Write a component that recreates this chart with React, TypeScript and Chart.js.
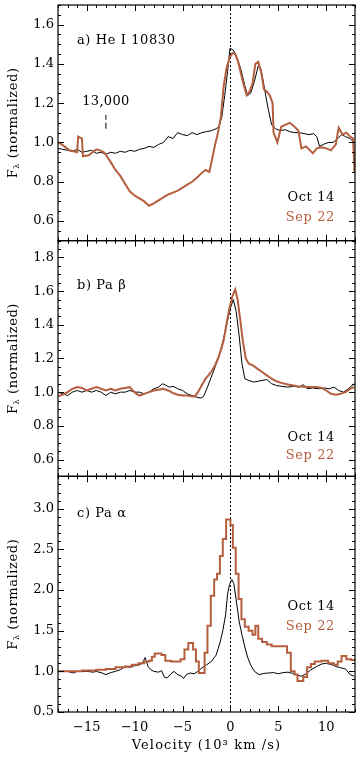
import React, { useEffect, useRef } from 'react';
import { Chart, registerables } from 'chart.js';

Chart.register(...registerables);

// ---------- data ----------
const xMajor = [-15, -10, -5, 0, 5, 10];
const yTicksA = [0.6, 0.8, 1.0, 1.2, 1.4, 1.6];
const yTicksB = [0.6, 0.8, 1.0, 1.2, 1.4, 1.6, 1.8];
const yTicksC = [0.5, 1.0, 1.5, 2.0, 2.5, 3.0];
const panelLabels = ['a) He I 10830', 'b) Pa β', 'c) Pa α'];
const legendLabels = ['Oct 14', 'Sep 22'];
const xTitle = 'Velocity (10³ km /s)';
const markerLabel = '13,000';
const markerVelocity = -13;
const markerRange = [1.07, 1.14];

// He I 10830 (velocity in 10^3 km/s, normalized flux)
const heOct = [
  [-18, 0.97], [-17.5, 0.965], [-17, 0.96], [-16.5, 0.955], [-16, 0.965], [-15.5, 0.95], [-15, 0.955],
  [-14.5, 0.96], [-14, 0.945], [-13.5, 0.95], [-13, 0.94], [-12.5, 0.95], [-12, 0.945], [-11.5, 0.955],
  [-11, 0.95], [-10.5, 0.96], [-10, 0.955], [-9.5, 0.965], [-9, 0.97], [-8.5, 0.98], [-8, 0.975],
  [-7.5, 0.99], [-7, 1.0], [-6.5, 1.03], [-6, 1.02], [-5.5, 1.05], [-5, 1.04], [-4.5, 1.035],
  [-4, 1.05], [-3.5, 1.04], [-3, 1.05], [-2.5, 1.055], [-2, 1.06], [-1.5, 1.07], [-1.2, 1.08],
  [-0.9, 1.13], [-0.6, 1.24], [-0.3, 1.36], [-0.05, 1.48], [0.3, 1.47], [0.7, 1.43], [1.1, 1.37],
  [1.5, 1.29], [1.8, 1.24], [2.1, 1.25], [2.5, 1.31], [2.9, 1.39], [3.2, 1.37], [3.5, 1.29],
  [3.9, 1.18], [4.3, 1.09], [4.7, 1.07], [5.2, 1.06], [5.7, 1.065], [6.2, 1.055], [6.7, 1.05],
  [7.2, 1.05], [7.7, 1.045], [8.2, 1.04], [8.7, 1.045], [9.0, 1.03], [9.3, 0.98], [9.7, 0.99],
  [10.2, 1.0], [10.7, 1.0], [11.2, 1.02], [11.6, 1.04], [12.0, 1.03], [12.5, 1.02], [12.9, 1.0],
];
const heSep = [
  [-18, 1.0], [-17.6, 0.99], [-17.2, 0.975], [-16.8, 0.96], [-16.4, 0.955], [-16.0, 0.95], [-15.9, 1.03],
  [-15.5, 1.02], [-15.4, 0.93], [-14.8, 0.935], [-14.4, 0.95], [-14.0, 0.965], [-13.6, 0.96], [-13.2, 0.95],
  [-12.9, 0.93], [-12.5, 0.9], [-12.0, 0.86], [-11.5, 0.83], [-11.0, 0.79], [-10.5, 0.75], [-10.0, 0.73],
  [-9.5, 0.715], [-9.0, 0.7], [-8.5, 0.678], [-8.0, 0.69], [-7.5, 0.705], [-7.0, 0.72], [-6.5, 0.735],
  [-6.0, 0.745], [-5.5, 0.755], [-5.0, 0.77], [-4.5, 0.785], [-4.0, 0.8], [-3.5, 0.82], [-3.0, 0.845],
  [-2.6, 0.86], [-2.2, 0.85], [-1.9, 0.92], [-1.6, 0.99], [-1.3, 1.05], [-1.0, 1.13], [-0.7, 1.29],
  [-0.4, 1.38], [-0.1, 1.43], [0.2, 1.455], [0.5, 1.45], [0.8, 1.41], [1.1, 1.35], [1.4, 1.29],
  [1.7, 1.24], [2.0, 1.26], [2.3, 1.3], [2.6, 1.4], [2.9, 1.41], [3.2, 1.36], [3.5, 1.27], [3.8, 1.26],
  [4.1, 1.24], [4.4, 1.2], [4.5, 1.05], [4.9, 1.0], [5.3, 1.08], [5.7, 1.09], [6.2, 1.1], [6.7, 1.08],
  [7.1, 1.06], [7.4, 0.97], [7.9, 0.98], [8.3, 0.96], [8.6, 0.945], [9.0, 0.97], [9.5, 0.975],
  [10.0, 0.97], [10.5, 0.96], [11.0, 0.99], [11.3, 1.075], [11.7, 1.04], [12.1, 1.05], [12.5, 1.03],
  [12.8, 1.02], [12.95, 0.85],
];

// Pa beta
const pbOct = [
  [-18, 1.0], [-17.5, 0.99], [-17, 0.98], [-16.5, 1.0], [-16, 1.01], [-15.5, 1.0], [-15, 1.01], [-14.5, 1.0],
  [-14, 1.01], [-13.5, 1.0], [-13, 0.98], [-12.5, 1.0], [-12, 0.99], [-11.5, 1.0], [-11, 1.0], [-10.5, 1.01],
  [-10, 1.0], [-9.5, 1.0], [-9, 0.99], [-8.5, 1.0], [-8, 1.02], [-7.5, 1.03], [-7.1, 1.05], [-6.7, 1.04],
  [-6.4, 1.03], [-6, 1.035], [-5.5, 1.02], [-5, 1.01], [-4.5, 0.99], [-4, 0.98], [-3.5, 0.97], [-3.1, 0.965],
  [-2.8, 0.975], [-2.4, 1.03], [-2, 1.09], [-1.6, 1.15], [-1.2, 1.21], [-0.8, 1.3], [-0.4, 1.4], [0, 1.5],
  [0.3, 1.55], [0.6, 1.48], [0.9, 1.34], [1.2, 1.17], [1.5, 1.08], [1.9, 1.07], [2.4, 1.06], [2.9, 1.065],
  [3.3, 1.07], [3.8, 1.075], [4.3, 1.05], [4.8, 1.04], [5.3, 1.035], [6, 1.03], [6.6, 1.035], [7.2, 1.03],
  [7.6, 1.045], [8, 1.02], [8.6, 1.025], [9.2, 1.02], [9.8, 1.025], [10.3, 1.02], [10.8, 1.03], [11.3, 1.01],
  [11.8, 1.0], [12.3, 1.02], [12.9, 1.05],
];
const pbSep = [
  [-18, 0.975], [-17.5, 0.985], [-17, 1.0], [-16.5, 1.02], [-16, 1.03], [-15.5, 1.025], [-15, 1.01],
  [-14.5, 1.02], [-14, 1.03], [-13.5, 1.02], [-13, 1.01], [-12.5, 1.02], [-12, 1.01], [-11.5, 1.02],
  [-11, 1.025], [-10.5, 1.03], [-10.2, 1.01], [-9.8, 0.99], [-9.5, 0.98], [-9, 0.99], [-8.5, 1.0],
  [-8, 1.01], [-7.5, 1.015], [-7, 1.02], [-6.5, 1.01], [-6, 0.995], [-5.5, 0.985], [-5, 0.98], [-4.5, 0.98],
  [-4, 0.975], [-3.7, 0.975], [-3.4, 1.0], [-3, 1.04], [-2.6, 1.08], [-2.3, 1.1], [-1.9, 1.13], [-1.6, 1.16],
  [-1.3, 1.2], [-1.0, 1.25], [-0.7, 1.31], [-0.4, 1.41], [-0.1, 1.5], [0.2, 1.57], [0.5, 1.61], [0.75, 1.55],
  [1.0, 1.44], [1.3, 1.3], [1.6, 1.2], [1.9, 1.17], [2.3, 1.16], [2.8, 1.14], [3.3, 1.12], [3.8, 1.1],
  [4.3, 1.08], [4.8, 1.065], [5.3, 1.055], [6, 1.045], [7, 1.035], [8, 1.03], [9, 1.03], [9.5, 1.025],
  [10, 1.01], [10.5, 0.99], [11, 0.985], [11.5, 0.99], [12, 1.0], [12.5, 1.02], [12.9, 1.03],
];

// Pa alpha
const paOct = [
  [-18, 1.0], [-17, 1.0], [-16.4, 0.98], [-16, 1.0], [-15, 1.0], [-14.3, 0.99], [-14, 1.0], [-13.4, 0.98],
  [-13, 0.96], [-12.5, 0.985], [-12, 1.0], [-11.5, 1.02], [-11, 1.06], [-10.5, 1.05], [-10, 1.07],
  [-9.5, 1.08], [-9.2, 1.1], [-8.9, 1.17], [-8.6, 1.06], [-8.3, 1.02], [-8, 1.0], [-7.5, 0.99], [-7.2, 1.01],
  [-6.9, 0.93], [-6.6, 0.92], [-6.2, 0.97], [-5.9, 1.0], [-5.5, 0.96], [-5.1, 0.94], [-4.9, 0.91],
  [-4.6, 0.96], [-4.2, 0.98], [-3.8, 0.97], [-3.4, 1.0], [-3, 1.04], [-2.5, 1.08], [-2, 1.12], [-1.5, 1.2],
  [-1.1, 1.35], [-0.8, 1.5], [-0.5, 1.7], [-0.3, 1.95], [-0.1, 2.07], [0.15, 2.13], [0.35, 2.08],
  [0.6, 1.88], [0.9, 1.62], [1.2, 1.45], [1.5, 1.3], [1.8, 1.17], [2.1, 1.08], [2.5, 1.0], [3, 0.96],
  [3.5, 0.975], [4, 0.98], [4.5, 0.985], [5, 0.97], [5.5, 0.985], [6, 0.99], [6.5, 0.975], [7, 0.955],
  [7.4, 0.94], [7.9, 0.97], [8.4, 1.02], [9, 1.06], [9.5, 1.09], [10, 1.1], [10.5, 1.085], [11, 1.06],
  [11.5, 1.045], [12, 1.03], [12.5, 0.96], [12.9, 0.94],
];
// binned spectrum: [bin start velocity, level]
const paSep = [
  [-18, 1.0], [-16.5, 1.0], [-15.5, 1.01], [-14, 1.02], [-13, 1.03], [-12, 1.05], [-11, 1.06], [-10.3, 1.08],
  [-9.6, 1.1], [-9, 1.12], [-8.5, 1.13], [-8.2, 1.18], [-7.9, 1.22], [-7.2, 1.2], [-6.8, 1.13], [-6.2, 1.12],
  [-5.6, 1.12], [-5.2, 1.15], [-4.8, 1.27], [-4.4, 1.35], [-3.9, 1.27], [-3.6, 1.12], [-3.3, 0.98],
  [-2.7, 1.23], [-2.4, 1.56], [-2.05, 1.93], [-1.7, 2.13], [-1.4, 2.2], [-1.1, 2.42], [-0.8, 2.63],
  [-0.45, 2.87], [0.0, 2.8], [0.25, 2.52], [0.55, 2.2], [0.85, 1.89], [1.15, 1.64], [1.5, 1.55], [1.9, 1.5],
  [2.3, 1.45], [2.6, 1.56], [2.9, 1.4], [3.3, 1.36], [3.8, 1.33], [4.3, 1.31], [5.5, 1.31], [5.9, 1.23],
  [6.3, 1.0], [6.7, 0.96], [7.0, 0.88], [7.6, 0.93], [8.0, 1.05], [8.4, 1.09], [8.8, 1.12], [9.5, 1.13],
  [10.2, 1.1], [10.8, 1.08], [11.2, 1.12], [11.6, 1.19], [12.1, 1.15], [12.6, 1.14], [13, 1.14],
];

// ---------- styles / layout ----------
const FONT = '"DejaVu Serif", serif';
const BROWN = '#b45e3e';
const BLACK = '#000000';

const panels = [
  { id: 'ya', minor: 0.05, major: 0.2, labelY: 1.52, legendY: [0.718, 0.615] },
  { id: 'yb', minor: 0.05, major: 0.2, labelY: 1.635, legendY: [0.728, 0.621] },
  { id: 'yc', minor: 0.1, major: 0.5, labelY: 2.94, legendY: [1.8, 1.553] },
];

const toXY = (arr: number[][]) => arr.map(([x, y]) => ({ x, y }));

function yAxis(min: number, max: number, ticks: number[]) {
  return {
    type: 'linear' as const,
    position: 'left' as const,
    stack: 'panels',
    stackWeight: 1,
    min,
    max,
    afterBuildTicks: (s: any) => {
      s.ticks = ticks.map((v) => ({ value: v }));
    },
    afterFit: (s: any) => {
      s.width = 58;
      s.paddingTop = 0;
      s.paddingBottom = 0;
    },
    grid: { display: false, drawTicks: false },
    border: { display: false },
    ticks: {
      color: BLACK,
      font: { family: FONT, size: 13 },
      padding: 4,
      autoSkip: false,
      callback: (v: any) => Number(v).toFixed(1),
    },
  };
}

const setSpacing = (ctx: any, s: string) => {
  if ('letterSpacing' in ctx) ctx.letterSpacing = s;
};

const decor = {
  id: 'decor',
  beforeDatasetsDraw(chart: any) {
    const { ctx, chartArea } = chart;
    const x0 = Math.round(chart.scales.x.getPixelForValue(0)) + 0.5;
    ctx.save();
    ctx.strokeStyle = BLACK;
    ctx.lineWidth = 1;
    ctx.setLineDash([2, 2]);
    ctx.beginPath();
    ctx.moveTo(x0, chartArea.top);
    ctx.lineTo(x0, chartArea.bottom);
    ctx.stroke();
    ctx.restore();
  },
  afterDatasetsDraw(chart: any) {
    const { ctx } = chart;
    const xs = chart.scales.x;
    const l = xs.left;
    const r = xs.right;
    panels.forEach((p, i) => {
      const ys = chart.scales[p.id];
      const t = ys.top;
      const b = ys.bottom;
      ctx.save();
      ctx.strokeStyle = BLACK;
      ctx.lineWidth = 1.2;
      ctx.strokeRect(l, t, r - l, b - t);
      ctx.lineWidth = 1;
      ctx.beginPath();
      // x ticks (top and bottom), every 1, major every 5
      for (let k = Math.ceil(xs.min); k <= Math.floor(xs.max); k++) {
        const px = Math.round(xs.getPixelForValue(k)) + 0.5;
        const len = k % 5 === 0 ? 6 : 3;
        ctx.moveTo(px, t);
        ctx.lineTo(px, t + len);
        ctx.moveTo(px, b);
        ctx.lineTo(px, b - len);
      }
      // y ticks (left and right)
      const k0 = Math.ceil(ys.min / p.minor - 1e-6);
      const k1 = Math.floor(ys.max / p.minor + 1e-6);
      for (let k = k0; k <= k1; k++) {
        const v = k * p.minor;
        const py = Math.round(ys.getPixelForValue(v)) + 0.5;
        const q = v / p.major;
        const len = Math.abs(q - Math.round(q)) < 1e-6 ? 6 : 3;
        ctx.moveTo(l, py);
        ctx.lineTo(l + len, py);
        ctx.moveTo(r, py);
        ctx.lineTo(r - len, py);
      }
      ctx.stroke();

      // texts
      setSpacing(ctx, '0.6px');
      ctx.font = `13px ${FONT}`;
      ctx.textBaseline = 'middle';
      ctx.fillStyle = BLACK;
      ctx.textAlign = 'left';
      ctx.fillText(panelLabels[i], l + 19, ys.getPixelForValue(p.labelY));
      ctx.textAlign = 'right';
      const lx = xs.getPixelForValue(10.9);
      ctx.fillStyle = BLACK;
      ctx.fillText(legendLabels[0], lx, ys.getPixelForValue(p.legendY[0]));
      ctx.fillStyle = BROWN;
      ctx.fillText(legendLabels[1], lx, ys.getPixelForValue(p.legendY[1]));

      // y title  F_lambda (normalized)
      const cy = (t + b) / 2;
      ctx.fillStyle = BLACK;
      ctx.translate(14, cy);
      ctx.rotate(-Math.PI / 2);
      ctx.textAlign = 'left';
      ctx.textBaseline = 'middle';
      const bigF = `13px ${FONT}`;
      const small = `8px ${FONT}`;
      ctx.font = bigF;
      const wF = ctx.measureText('F').width;
      const rest = ' (normalized)';
      const wR = ctx.measureText(rest).width;
      ctx.font = small;
      const wL = ctx.measureText('λ').width;
      let x = -(wF + wL + wR) / 2;
      ctx.font = bigF;
      ctx.fillText('F', x, 0);
      x += wF;
      ctx.font = small;
      ctx.fillText('λ', x, 3);
      x += wL;
      ctx.font = bigF;
      ctx.fillText(rest, x, 0);
      ctx.restore();
    });

    const ya = chart.scales.ya;
    ctx.save();
    ctx.fillStyle = BLACK;
    ctx.textAlign = 'center';
    ctx.textBaseline = 'middle';
    // 13,000 label
    setSpacing(ctx, '0.3px');
    ctx.font = `13px ${FONT}`;
    ctx.fillText(markerLabel, xs.getPixelForValue(markerVelocity), ya.getPixelForValue(1.21));
    // x axis title
    setSpacing(ctx, '1.1px');
    ctx.fillText(xTitle, (l + r) / 2, xs.bottom - 12);
    ctx.restore();
  },
};

const line = (data: number[][], yAxisID: string, color: string, width: number, stepped: any) => ({
  data: toXY(data),
  xAxisID: 'x',
  yAxisID,
  borderColor: color,
  backgroundColor: color,
  borderWidth: width,
  pointRadius: 0,
  fill: false,
  tension: 0,
  stepped,
});

export default function App() {
  const ref = useRef<HTMLCanvasElement | null>(null);
  useEffect(() => {
    if (!ref.current) return;
    const chart = new Chart(ref.current, {
      type: 'line',
      data: {
        datasets: [
          line(heSep, 'ya', BROWN, 2, false),
          line(heOct, 'ya', BLACK, 1, false),
          {
            ...line(
              [
                [markerVelocity, markerRange[0]],
                [markerVelocity, markerRange[1]],
              ],
              'ya',
              BLACK,
              1,
              false
            ),
            borderDash: [6, 3],
          },
          line(pbSep, 'yb', BROWN, 2, false),
          line(pbOct, 'yb', BLACK, 1, false),
          line(paSep, 'yc', BROWN, 2, 'before'),
          line(paOct, 'yc', BLACK, 1, false),
        ],
      },
      options: {
        responsive: false,
        animation: false,
        events: [],
        layout: { padding: { top: 5, right: 5, left: 0, bottom: 0 } },
        plugins: { legend: { display: false }, tooltip: { enabled: false } },
        scales: {
          x: {
            type: 'linear',
            position: 'bottom',
            min: -18,
            max: 13,
            afterBuildTicks: (s: any) => {
              s.ticks = xMajor.map((v) => ({ value: v }));
            },
            afterFit: (s: any) => {
              s.height = 46;
            },
            grid: { display: false, drawTicks: false },
            border: { display: false },
            ticks: {
              color: BLACK,
              font: { family: FONT, size: 13 },
              padding: 8,
              maxRotation: 0,
              autoSkip: false,
              callback: (v: any) => (v < 0 ? '\u2212' + Math.abs(v) : String(v)),
            },
            title: { display: false },
          },
          yc: yAxis(0.5, 3.4, yTicksC),
          yb: yAxis(0.5, 1.9, yTicksB),
          ya: yAxis(0.5, 1.7, yTicksA),
        } as any,
      },
      plugins: [decor],
    } as any);
    return () => chart.destroy();
  }, []);

  return (
    <div style={{ position: 'absolute', left: 0, top: 0, width: 360, height: 758, background: '#fff' }}>
      <canvas ref={ref} width={360} height={758} style={{ display: 'block', width: 360, height: 758 }} />
    </div>
  );
}
